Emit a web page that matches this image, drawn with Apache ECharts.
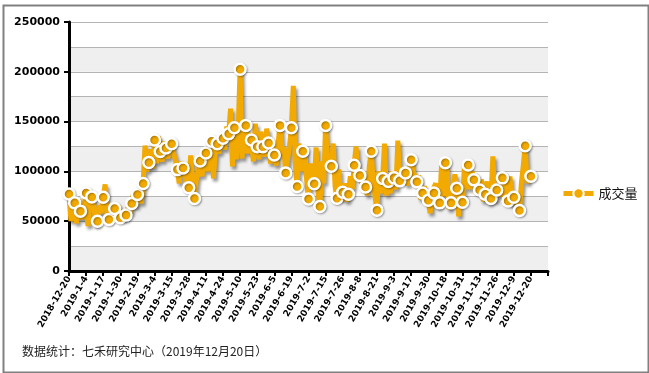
<!DOCTYPE html>
<html>
<head>
<meta charset="utf-8">
<script src="https://cdn.jsdelivr.net/npm/echarts@6/dist/echarts.min.js"></script>
<style>
html,body{margin:0;padding:0;background:#fff;}
#c{width:649px;height:373px;}
</style>
</head>
<body>
<div id="c"></div>
<script>
// Tick labels on the category axis (every 9th trading day)
var tickLabels = ['2018-12-20','2019-1-4','2019-1-17','2019-1-30','2019-2-19','2019-3-4','2019-3-15','2019-3-28','2019-4-11','2019-4-24','2019-5-10','2019-5-23','2019-6-5','2019-6-19','2019-7-2','2019-7-15','2019-7-26','2019-8-8','2019-8-21','2019-9-3','2019-9-17','2019-9-30','2019-10-18','2019-10-31','2019-11-13','2019-11-26','2019-12-9','2019-12-20'];
var seriesName = '成交量';
var footerText = '数据统计：七禾研究中心（2019年12月20日）';
var yTickLabels = [0, 50000, 100000, 150000, 200000, 250000];
// Daily volume, 244 trading days
var volume = [
 77400, 50000, 66000, 68400, 48000, 72000, 60100, 52000, 66000, 78400, 45000, 70000,
 74400, 68000, 46000, 50000, 66000, 58000, 74100, 87000, 55000, 51700, 63000, 56000,
 62800, 60000, 66000, 53400, 61000, 52000, 56100, 64000, 58000, 67800, 79000, 64000,
 76800, 80000, 68000, 87800, 126000, 100000, 109000, 122000, 103000, 131500, 108000, 135000,
 120000, 110000, 130000, 123500, 113000, 132000, 127800, 118000, 112000, 101800, 88000, 110000,
 103500, 95000, 90000, 83500, 116000, 95000, 72800, 92000, 100000, 110500, 95000, 115000,
 118500, 100000, 112000, 130200, 93000, 120000, 127800, 118000, 136000, 133200, 122000, 145000,
 137900, 163000, 105000, 143900, 112000, 140000, 202600, 113000, 135000, 146200, 118000, 138000,
 131500, 110000, 148000, 124800, 112000, 140000, 124800, 115000, 143000, 128500, 108000, 125000,
 116500, 106000, 128000, 146200, 118000, 125000, 98500, 112000, 125000, 143900, 186000, 110000,
 84800, 128000, 100000, 120200, 125000, 92000, 72400, 108000, 90000, 87500, 124000, 80000,
 64800, 110000, 88000, 146200, 110000, 118000, 105100, 128000, 85000, 73100, 102000, 72000,
 79100, 88000, 70000, 77100, 95000, 82000, 106100, 125000, 100000, 95800, 88000, 92000,
 84400, 76000, 105000, 120200, 92000, 75000, 61100, 100000, 78000, 92800, 128000, 76000,
 89800, 78000, 100000, 93500, 82000, 131000, 90500, 100000, 92000, 98500, 86000, 102000,
 111800, 100000, 95000, 89500, 96000, 72000, 78400, 85000, 76000, 71100, 58000, 80000,
 78400, 88000, 64000, 68400, 106000, 75000, 108800, 100000, 62000, 68400, 80000, 97000,
 83100, 55000, 85000, 69100, 104000, 82000, 106500, 82000, 100000, 91500, 97000, 78000,
 81400, 92000, 70000, 77100, 90000, 68000, 72800, 115000, 70000, 81400, 86000, 75000,
 93500, 72000, 90000, 70400, 95000, 66000, 74100, 78000, 65000, 60800, 88000, 106000,
 125800, 88000, 100000, 95100
];
var STEP = 9;
var slots = (tickLabels.length) * STEP + 1; // axis runs one label step past the last date
var categories = [];
for (var i = 0; i < slots; i++) categories.push(String(i));

var chart = echarts.init(document.getElementById('c'), null, {renderer: 'canvas'});
var orange = '#f2a900';
chart.setOption({
  animation: false,
  backgroundColor: '#fff',
  grid: {left: 69, right: 101, top: 22, bottom: 102, containLabel: false},
  legend: {
    data: [seriesName], left: 556, top: 182, itemWidth: 30, itemHeight: 13, itemGap: 8,
    lineStyle: {width: 5},
    textStyle: {fontSize: 13, color: '#111', fontFamily: 'Noto Sans CJK SC'}
  },
  graphic: [
    {type: 'rect', left: 1, top: 3, shape: {width: 645, height: 367}, style: {fill: 'none', stroke: '#808080', lineWidth: 2}, silent: true},
    {type: 'text', left: 22, top: 345, style: {text: footerText, fontSize: 12, fill: '#222', fontFamily: 'Noto Sans CJK SC'}}
  ],
  xAxis: {
    type: 'category', data: categories, boundaryGap: false,
    axisLine: {lineStyle: {color: '#000', width: 3}},
    axisTick: {interval: STEP - 1, length: 5, lineStyle: {color: '#000', width: 2}},
    axisLabel: {
      interval: STEP - 1, rotate: 60, margin: 6, fontSize: 9, fontWeight: 'bold',
      color: '#000', fontFamily: 'DejaVu Sans',
      formatter: function (v, idx) { var k = Number(v) / STEP; return tickLabels[k] || ''; }
    },
    splitLine: {show: false}
  },
  yAxis: [
    {
      type: 'value', min: 0, max: 250000, interval: 25000,
      axisLine: {show: false}, axisTick: {show: false}, axisLabel: {show: false},
      splitLine: {lineStyle: {color: '#b4b4b4', width: 1}},
      splitArea: {show: true, areaStyle: {color: ['#efefef', '#ffffff']}}
    },
    {
      type: 'value', min: yTickLabels[0], max: yTickLabels[yTickLabels.length - 1], interval: 50000, position: 'left',
      axisLine: {show: true, lineStyle: {color: '#000', width: 3}},
      axisTick: {show: true, length: 5, lineStyle: {color: '#000', width: 2}},
      axisLabel: {fontSize: 11, fontWeight: 'bold', color: '#000', margin: 9, fontFamily: 'DejaVu Sans',
        formatter: function (v) { return String(v); }},
      splitLine: {show: false}, splitArea: {show: false}
    }
  ],
  series: [{
    name: seriesName, type: 'line', yAxisIndex: 0, data: volume,
    showAllSymbol: true, symbol: 'circle',
    symbolSize: function (v, p) { return p.dataIndex % 3 === 0 ? 11 : 0; },
    lineStyle: {color: orange, width: 5, shadowColor: 'rgba(0,0,0,0.4)', shadowBlur: 3, shadowOffsetX: 2, shadowOffsetY: 3},
    itemStyle: {color: orange, borderColor: '#fff', borderWidth: 2.5, shadowColor: 'rgba(0,0,0,0.3)', shadowBlur: 2, shadowOffsetX: 1, shadowOffsetY: 1},
    emphasis: {disabled: true}
  }]
});
</script>
</body>
</html>
